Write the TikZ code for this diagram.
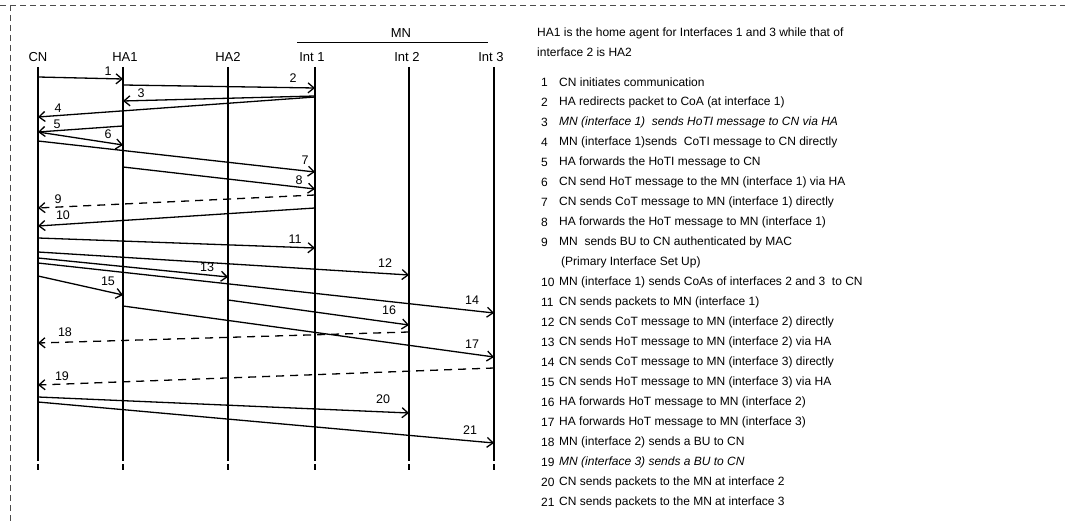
\documentclass[tikz,border=0pt]{standalone}
\usepackage{fontspec}
\setmainfont{Liberation Sans}
\usetikzlibrary{arrows.meta}
\begin{document}
\begin{tikzpicture}[x=1pt,y=-1pt,
  life/.style={line width=1.4pt},
  msg/.style={line width=1.3pt,-{Straight Barb[length=6pt,width=10pt,line width=1.3pt]}},
  ret/.style={msg,dash pattern=on 8pt off 6pt},
  num/.style={inner sep=0pt,font=\fontsize{12.5}{14}\selectfont},
  head/.style={inner sep=0pt,font=\fontsize{13}{15}\selectfont},
  txt/.style={inner sep=0pt,anchor=west,font=\fontsize{12}{14}\selectfont},
  frame/.style={black!70,line width=0.7pt,dash pattern=on 6pt off 4pt}]
\useasboundingbox (0,0) rectangle (1065,521);
% frame
\draw[frame] (0,5) -- (1065,5);
\draw[frame] (10,5) -- (10,521);
% headers
\node[head] (hCN) at (38,57) {CN};
\node[head] (hHA1) at (125,57) {HA1};
\node[head] (hHA2) at (228,57) {HA2};
\node[head] (hI1) at (312,57) {Int 1};
\node[head] (hI2) at (407,57) {Int 2};
\node[head] (hI3) at (491,57) {Int 3};
\node[head] (hMN) at (401,33) {MN};
\coordinate (mnl) at (297,43);
\coordinate (mnr) at (488,43);
\draw[line width=1pt] (mnl) -- (mnr);
% lifelines
\foreach \n/\x in {CN/38,HA1/123,HA2/228,I1/315,I2/409,I3/494}{
  \coordinate (\n t) at (\x,67);
  \coordinate (\n m) at (\x,461);
  \coordinate (\n g) at (\x,464);
  \coordinate (\n b) at (\x,470);
  \draw[life] (\n t) -- (\n m);
  \draw[life] (\n g) -- (\n b);
}
% message end points
\coordinate (a1s) at (38,77);   \coordinate (a1e) at (123,79);
\coordinate (a2s) at (123,85);  \coordinate (a2e) at (315,88);
\coordinate (a3s) at (315,96);  \coordinate (a3e) at (123,101);
\coordinate (a4s) at (315,97);  \coordinate (a4e) at (38,117);
\coordinate (a5s) at (123,126); \coordinate (a5e) at (38,132);
\coordinate (a6s) at (38,132);  \coordinate (a6e) at (123,145);
\coordinate (a7s) at (38,141);  \coordinate (a7e) at (315,172);
\coordinate (a8s) at (123,167); \coordinate (a8e) at (315,189);
\coordinate (a9s) at (315,195); \coordinate (a9e) at (38,208);
\coordinate (a10s) at (315,208); \coordinate (a10e) at (38,226);
\coordinate (a11s) at (38,238); \coordinate (a11e) at (315,248);
\coordinate (a12s) at (38,252); \coordinate (a12e) at (409,275);
\coordinate (a13s) at (38,258); \coordinate (a13e) at (228,277);
\coordinate (a14s) at (38,263); \coordinate (a14e) at (494,313);
\coordinate (a15s) at (38,276); \coordinate (a15e) at (123,295);
\coordinate (a16s) at (228,300); \coordinate (a16e) at (409,325);
\coordinate (a17s) at (123,306); \coordinate (a17e) at (494,357);
\coordinate (a18s) at (409,332); \coordinate (a18e) at (38,343);
\coordinate (a19s) at (494,368); \coordinate (a19e) at (38,385);
\coordinate (a20s) at (38,397); \coordinate (a20e) at (409,413);
\coordinate (a21s) at (38,402); \coordinate (a21e) at (494,443);
% messages
\foreach \k in {1,2,3,4,5,6,7,8,10,11,12,13,14,15,16,17,20,21}{
  \draw[msg] (a\k s) -- (a\k e);
}
\foreach \k in {9,18,19}{
  \draw[ret] (a\k s) -- (a\k e);
}
% message labels
\node[num] (l1) at (108,71) {1};
\node[num] (l2) at (293,78) {2};
\node[num] (l3) at (141,93) {3};
\node[num] (l4) at (58,108) {4};
\node[num] (l5) at (57,124) {5};
\node[num] (l6) at (108,134) {6};
\node[num] (l7) at (305,160) {7};
\node[num] (l8) at (299,180) {8};
\node[num] (l9) at (58,199) {9};
\node[num] (l10) at (63,215) {10};
\node[num] (l11) at (295,239) {11};
\node[num] (l12) at (385,263) {12};
\node[num] (l13) at (207,267) {13};
\node[num] (l14) at (472,300) {14};
\node[num] (l15) at (108,281) {15};
\node[num] (l16) at (389,310) {16};
\node[num] (l17) at (472,344) {17};
\node[num] (l18) at (65,332) {18};
\node[num] (l19) at (62,376) {19};
\node[num] (l20) at (383,399) {20};
\node[num] (l21) at (470,430) {21};
% description text
\node[txt] (t0a) at (537,33) {HA1 is the home agent for Interfaces 1 and 3 while that of};
\node[txt] (t0b) at (537,52) {interface 2 is HA2};
\foreach \k/\y/\s in {
 1/82/{CN initiates communication},
 2/102/{HA redirects packet to CoA (at interface 1)},
 3/122/{\itshape MN (interface 1)\ \ sends HoTI message to CN via HA},
 4/142/{MN (interface 1)sends\ \ CoTI message to CN directly},
 5/162/{HA forwards the HoTI message to CN},
 6/182/{CN send HoT message to the MN (interface 1) via HA},
 7/202/{CN sends CoT message to MN (interface 1) directly},
 8/222/{HA forwards the HoT message to MN (interface 1)},
 9/242/{MN\ \ sends BU to CN authenticated by MAC},
 10/282/{MN (interface 1) sends CoAs of interfaces 2 and 3\ \ to CN},
 11/302/{CN sends packets to MN (interface 1)},
 12/322/{CN sends CoT message to MN (interface 2) directly},
 13/342/{CN sends HoT message to MN (interface 2) via HA},
 14/362/{CN sends CoT message to MN (interface 3) directly},
 15/382/{CN sends HoT message to MN (interface 3) via HA},
 16/402/{HA forwards HoT message to MN (interface 2)},
 17/422/{HA forwards HoT message to MN (interface 3)},
 18/442/{MN (interface 2) sends a BU to CN},
 19/462/{\itshape MN (interface 3) sends a BU to CN},
 20/482/{CN sends packets to the MN at interface 2},
 21/502/{CN sends packets to the MN at interface 3}}{
  \node[txt] (n\k) at (541,\y) {\k};
  \node[txt] (d\k) at (559,\y) {\s};
}
\node[txt] (d9b) at (561,262) {(Primary Interface Set Up)};
\end{tikzpicture}
\end{document}
